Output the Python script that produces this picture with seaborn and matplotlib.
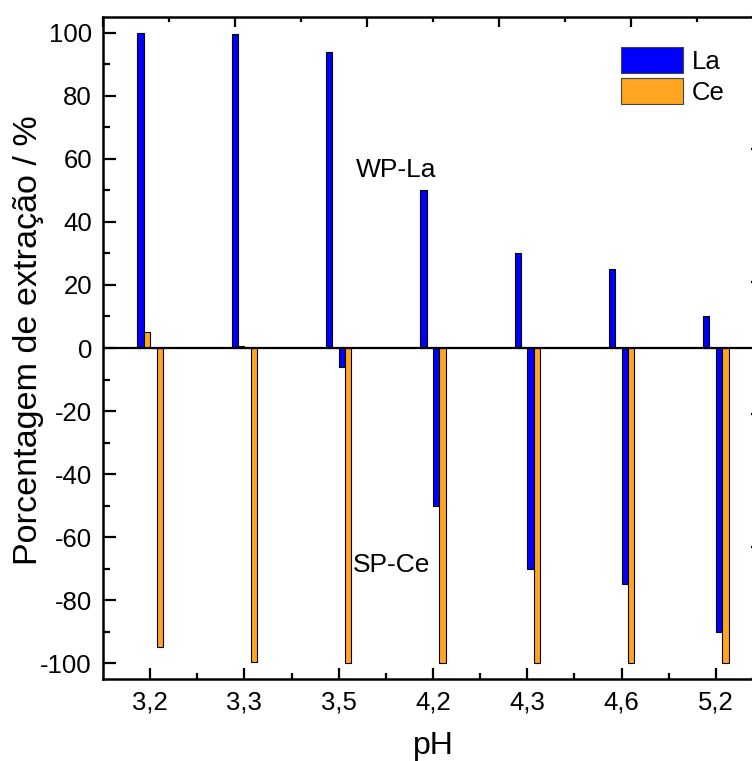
import matplotlib
matplotlib.use("Agg")
import matplotlib.pyplot as plt
from matplotlib.patches import Patch
from matplotlib.ticker import MultipleLocator, FixedLocator, NullFormatter
import numpy as np
import pandas as pd
import seaborn as sns

# pH categories and extraction percentages (WP = positive side, SP = negative side)
ph_labels = ["3,2", "3,3", "3,5", "4,2", "4,3", "4,6", "5,2"]
wp_la = [100, 99.5, 94, 50, 30, 25, 10]
wp_ce = [5, 0.5, 0, 0, 0, 0, 0]
sp_la = [0, 0, -6, -50, -70, -75, -90]
sp_ce = [-95, -99.5, -100, -100, -100, -100, -100]

series_names = ["WP-La", "WP-Ce", "SP-La", "SP-Ce"]
blue = "#0000FF"
orange = "#FFA521"

df = pd.DataFrame({
    "pH": ph_labels * 4,
    "serie": np.repeat(series_names, len(ph_labels)),
    "valor": wp_la + wp_ce + sp_la + sp_ce,
})

sns.set_style("ticks")
plt.rcParams["font.family"] = ["Liberation Sans", "DejaVu Sans"]
plt.rcParams["axes.unicode_minus"] = False
for key in ["text.color", "axes.labelcolor", "xtick.color", "ytick.color",
            "axes.edgecolor"]:
    plt.rcParams[key] = "black"

W, H = 752, 761
fig = plt.figure(figsize=(W / 100, H / 100), dpi=100)
rect = [103 / W, 82 / H, 660 / W, 662 / H]
ax = fig.add_axes(rect)

sns.barplot(data=df, x="pH", y="valor", hue="serie", hue_order=series_names,
            order=ph_labels, palette=[blue, orange, blue, orange],
            saturation=1, width=0.27, gap=0, errorbar=None, edgecolor="black",
            linewidth=0.8, legend=False, ax=ax, zorder=3)

ax.axhline(0, color="black", lw=1.6, zorder=4)

ax.set_xlim(-0.5, 6.5)
ax.set_ylim(-105, 105)
ax.set_yticks(np.arange(-100, 101, 20))
ax.set_yticklabels([str(v) for v in range(-100, 101, 20)])
ax.yaxis.set_minor_locator(MultipleLocator(10))
ax.xaxis.set_minor_locator(FixedLocator(np.arange(0.5, 6, 1.0)))

for s in ["left", "bottom", "top", "right"]:
    ax.spines[s].set_linewidth(1.8)
    ax.spines[s].set_color("black")

ax.tick_params(axis="y", which="major", direction="in", length=9.4, width=1.6,
               labelsize=18.5, pad=8, left=True, right=False, colors="black")
ax.tick_params(axis="y", which="minor", direction="in", length=5, width=1.6,
               left=True, right=False, colors="black")
ax.tick_params(axis="x", which="major", direction="in", length=8, width=1.6,
               labelsize=18.5, pad=8, bottom=True, top=False, colors="black")
ax.tick_params(axis="x", which="minor", direction="in", length=4.3, width=1.6,
               bottom=True, top=False, colors="black")

ax.set_xlabel("pH", fontsize=23, color="black")
ax.set_ylabel("Porcentagem de extração / %", fontsize=24.6, color="black")
ax.xaxis.set_label_coords(0.5, -0.079)
ax.yaxis.set_label_coords(-0.09, 0.512)

ax.text(2.184, 54.2, "WP-La", fontsize=19, ha="left", va="baseline",
        color="black", zorder=5)
ax.text(2.145, -71.2, "SP-Ce", fontsize=19, ha="left", va="baseline",
        color="black", zorder=5)

handles = [Patch(facecolor=blue, edgecolor="#444444", linewidth=0.8, label="La"),
           Patch(facecolor=orange, edgecolor="#444444", linewidth=0.8, label="Ce")]
leg = ax.legend(handles=handles, loc="upper left",
                bbox_to_anchor=(620.7 / W, 1 - 46.7 / H), bbox_transform=fig.transFigure,
                frameon=False, borderpad=0, borderaxespad=0, handlelength=2.44,
                handleheight=1.22, labelspacing=0.15, handletextpad=0.32,
                fontsize=18.5)
for t in leg.get_texts():
    t.set_color("black")

# second frame layer: ticks along the top and right edges
ax2 = fig.add_axes(rect, zorder=5)
ax2.patch.set_visible(False)
for s in ax2.spines.values():
    s.set_visible(False)
ax2.set_xlim(0, 10)
ax2.set_ylim(0, 5)
ax2.xaxis.set_major_locator(MultipleLocator(2))
ax2.xaxis.set_minor_locator(MultipleLocator(1))
ax2.yaxis.set_major_locator(MultipleLocator(1))
ax2.yaxis.set_minor_locator(MultipleLocator(0.5))
ax2.xaxis.set_major_formatter(NullFormatter())
ax2.yaxis.set_major_formatter(NullFormatter())
ax2.tick_params(axis="x", which="major", direction="in", length=7, width=1.6,
                top=True, bottom=False, labeltop=False, labelbottom=False,
                colors="black")
ax2.tick_params(axis="x", which="minor", direction="in", length=3.6, width=1.6,
                top=True, bottom=False, colors="black")
ax2.tick_params(axis="y", which="major", direction="in", length=8.6, width=1.6,
                right=True, left=False, labelleft=False, labelright=False,
                colors="black")
ax2.tick_params(axis="y", which="minor", direction="in", length=3.6, width=1.6,
                right=True, left=False, colors="black")

fig.savefig("out.png", dpi=100)
